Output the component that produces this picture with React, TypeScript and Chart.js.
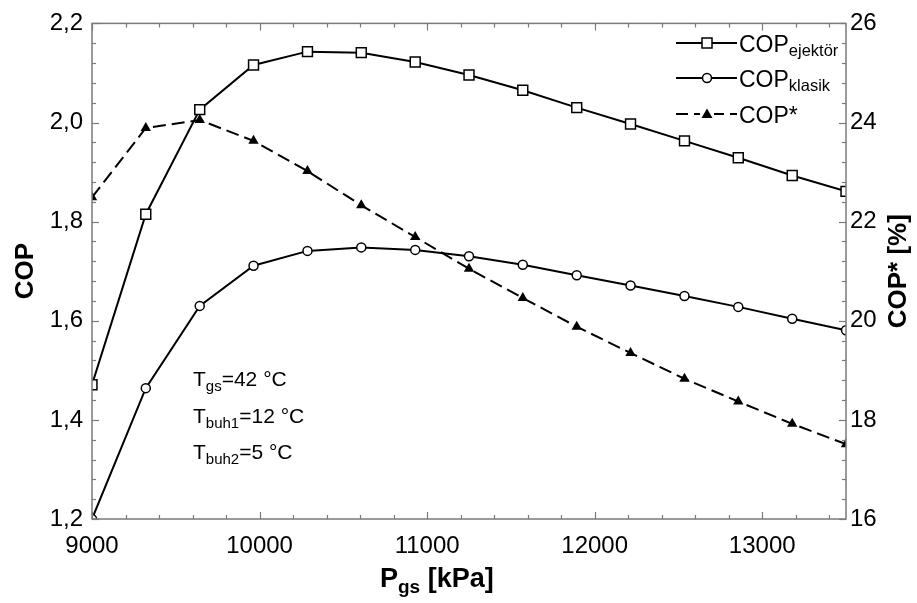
import React, { useEffect, useRef } from "react";
import { Chart, registerables } from "chart.js";

Chart.register(...registerables);

// ---- data ----
const pressures = [9000, 9321, 9643, 9964, 10286, 10607, 10929, 11250, 11571, 11893, 12214, 12536, 12857, 13179, 13500];
const copEjektor = [1.471, 1.815, 2.026, 2.116, 2.143, 2.141, 2.122, 2.096, 2.065, 2.03, 1.997, 1.963, 1.929, 1.893, 1.861];
const copKlasik = [1.2, 1.464, 1.63, 1.711, 1.741, 1.748, 1.743, 1.73, 1.713, 1.692, 1.671, 1.65, 1.628, 1.604, 1.581];
const copStar = [22.49, 23.89, 24.05, 23.63, 23.02, 22.33, 21.69, 21.05, 20.46, 19.88, 19.35, 18.83, 18.37, 17.92, 17.51];

const xTicks = [9000, 10000, 11000, 12000, 13000];
const yTicks = [1.2, 1.4, 1.6, 1.8, 2.0, 2.2];
const y1Ticks = [16, 18, 20, 22, 24, 26];

const legendLabels = [
  { main: "COP", sub: "ejektör" },
  { main: "COP", sub: "klasik" },
  { main: "COP*", sub: "" },
];
const notes = [
  { main: "T", sub: "gs", rest: "=42 °C" },
  { main: "T", sub: "buh1", rest: "=12 °C" },
  { main: "T", sub: "buh2", rest: "=5 °C" },
];

const FONT = '"Liberation Sans", Arial, sans-serif';
const AXIS_GRAY = "#7a7a7a";

const decorPlugin = {
  id: "decor",
  afterDraw(chart: any) {
    const ctx = chart.ctx as CanvasRenderingContext2D;
    const { left, right, top, bottom } = chart.chartArea;
    const xs = chart.scales.x;
    const ys = chart.scales.y;
    const y1s = chart.scales.y1;
    ctx.save();
    // frame
    ctx.strokeStyle = AXIS_GRAY;
    ctx.lineWidth = 1.5;
    ctx.strokeRect(left, top, right - left, bottom - top);
    ctx.lineWidth = 1.2;
    // x ticks (inward, bottom and top)
    for (let v = 9000; v <= 13500; v += 200) {
      const px = Math.round(xs.getPixelForValue(v)) + 0.5;
      const len = v % 1000 === 0 ? 7 : 4;
      ctx.beginPath();
      ctx.moveTo(px, bottom);
      ctx.lineTo(px, bottom - len);
      ctx.moveTo(px, top);
      ctx.lineTo(px, top + len);
      ctx.stroke();
    }
    // left ticks
    for (let i = 0; i <= 25; i++) {
      const v = 1.2 + i * 0.04;
      const py = Math.round(ys.getPixelForValue(v)) + 0.5;
      const len = i % 5 === 0 ? 7 : 4;
      ctx.beginPath();
      ctx.moveTo(left, py);
      ctx.lineTo(left + len, py);
      ctx.stroke();
    }
    // right ticks
    for (let i = 0; i <= 25; i++) {
      const v = 16 + i * 0.4;
      const py = Math.round(y1s.getPixelForValue(v)) + 0.5;
      const len = i % 5 === 0 ? 7 : 4;
      ctx.beginPath();
      ctx.moveTo(right, py);
      ctx.lineTo(right - len, py);
      ctx.stroke();
    }

    ctx.fillStyle = "#000";
    // axis titles
    ctx.font = `bold 26px ${FONT}`;
    ctx.textBaseline = "middle";
    ctx.textAlign = "center";
    ctx.save();
    ctx.translate(26, (top + bottom) / 2);
    ctx.rotate(-Math.PI / 2);
    ctx.fillText("COP", 0, 0);
    ctx.restore();
    ctx.save();
    ctx.translate(899, (top + bottom) / 2);
    ctx.rotate(-Math.PI / 2);
    ctx.fillText("COP* [%]", 0, 0);
    ctx.restore();

    // x title with subscript
    ctx.textAlign = "left";
    ctx.textBaseline = "alphabetic";
    let tx = 380;
    const tBase = 587;
    ctx.font = `bold 27px ${FONT}`;
    ctx.fillText("P", tx, tBase);
    tx += ctx.measureText("P").width;
    ctx.font = `bold 19px ${FONT}`;
    ctx.fillText("gs", tx, tBase + 6);
    tx += ctx.measureText("gs").width;
    ctx.font = `bold 27px ${FONT}`;
    ctx.fillText(" [kPa]", tx, tBase);

    // legend
    const legendY = [43, 78, 114];
    legendLabels.forEach((lab, i) => {
      const ly = legendY[i];
      ctx.strokeStyle = "#000";
      ctx.lineWidth = 2;
      ctx.setLineDash(i === 2 ? [12, 6] : []);
      ctx.beginPath();
      ctx.moveTo(676, ly);
      ctx.lineTo(737, ly);
      ctx.stroke();
      ctx.setLineDash([]);
      ctx.lineWidth = 1.5;
      const mx = 707;
      if (i === 0) {
        ctx.fillStyle = "#fff";
        ctx.fillRect(mx - 5, ly - 5, 10, 10);
        ctx.strokeRect(mx - 5, ly - 5, 10, 10);
      } else if (i === 1) {
        ctx.fillStyle = "#fff";
        ctx.beginPath();
        ctx.arc(mx, ly, 4.5, 0, Math.PI * 2);
        ctx.fill();
        ctx.stroke();
      } else {
        ctx.fillStyle = "#fff";
        ctx.fillRect(mx - 7, ly - 3, 14, 6);
        ctx.fillStyle = "#000";
        ctx.beginPath();
        ctx.moveTo(mx, ly - 5.5);
        ctx.lineTo(mx + 5.5, ly + 4);
        ctx.lineTo(mx - 5.5, ly + 4);
        ctx.closePath();
        ctx.fill();
      }
      ctx.fillStyle = "#000";
      let lx = 739;
      const base = ly + 8.5;
      ctx.font = `23px ${FONT}`;
      ctx.fillText(lab.main, lx, base);
      lx += ctx.measureText(lab.main).width;
      if (lab.sub) {
        ctx.font = `16.5px ${FONT}`;
        ctx.fillText(lab.sub, lx, base + 4);
      }
    });

    // annotations
    const noteBase = [386, 423, 459];
    notes.forEach((n, i) => {
      let nx = 193;
      const b = noteBase[i];
      ctx.font = `21px ${FONT}`;
      ctx.fillText(n.main, nx, b);
      nx += ctx.measureText(n.main).width;
      ctx.font = `15px ${FONT}`;
      ctx.fillText(n.sub, nx, b + 5);
      nx += ctx.measureText(n.sub).width;
      ctx.font = `21px ${FONT}`;
      ctx.fillText(n.rest, nx, b);
    });
    ctx.restore();
  },
};

export default function App() {
  const ref = useRef<HTMLCanvasElement>(null);
  useEffect(() => {
    if (!ref.current) return;
    const toPts = (ys: number[]) => pressures.map((x, i) => ({ x, y: ys[i] }));
    const chart = new Chart(ref.current, {
      type: "line",
      data: {
        datasets: [
          {
            label: "COP ejektör",
            data: toPts(copEjektor),
            yAxisID: "y",
            borderColor: "#000",
            borderWidth: 2,
            pointStyle: "rect",
            pointRadius: 7,
            pointBorderWidth: 1.5,
            pointBackgroundColor: "#fff",
            pointBorderColor: "#000",
            tension: 0,
            clip: 0,
          },
          {
            label: "COP klasik",
            data: toPts(copKlasik),
            yAxisID: "y",
            borderColor: "#000",
            borderWidth: 2,
            pointStyle: "circle",
            pointRadius: 4.5,
            pointBorderWidth: 1.5,
            pointBackgroundColor: "#fff",
            pointBorderColor: "#000",
            tension: 0,
            clip: 0,
          },
          {
            label: "COP*",
            data: toPts(copStar),
            yAxisID: "y1",
            borderColor: "#000",
            borderWidth: 2,
            borderDash: [13, 6],
            pointStyle: "triangle",
            pointRadius: 6,
            pointBorderWidth: 0,
            pointBackgroundColor: "#000",
            pointBorderColor: "#000",
            tension: 0,
            clip: 0,
          },
        ],
      } as any,
      options: {
        animation: false,
        responsive: false,
        layout: { padding: { top: 17, left: 0, right: 0, bottom: 0 } },
        plugins: { legend: { display: false }, tooltip: { enabled: false } },
        scales: {
          x: {
            type: "linear",
            min: 9000,
            max: 13500,
            grid: { display: false, drawTicks: false },
            border: { display: false },
            afterBuildTicks: (s: any) => {
              s.ticks = xTicks.map((v) => ({ value: v }));
            },
            afterFit: (s: any) => {
              s.height = 84;
            },
            ticks: {
              padding: 13,
              color: "#000",
              font: { family: FONT, size: 24 },
              callback: (v: any) => String(v),
              maxRotation: 0,
            },
          },
          y: {
            type: "linear",
            position: "left",
            min: 1.2,
            max: 2.2,
            grid: { display: false, drawTicks: false },
            border: { display: false },
            afterBuildTicks: (s: any) => {
              s.ticks = yTicks.map((v) => ({ value: v }));
            },
            afterFit: (s: any) => {
              s.width = 92;
            },
            ticks: {
              padding: 9,
              color: "#000",
              font: { family: FONT, size: 24 },
              callback: (v: any) => Number(v).toFixed(1).replace(".", ","),
            },
          },
          y1: {
            type: "linear",
            position: "right",
            min: 16,
            max: 26,
            grid: { display: false, drawTicks: false },
            border: { display: false },
            afterBuildTicks: (s: any) => {
              s.ticks = y1Ticks.map((v) => ({ value: v }));
            },
            afterFit: (s: any) => {
              s.width = 71;
            },
            ticks: {
              padding: 4,
              color: "#000",
              font: { family: FONT, size: 24 },
              callback: (v: any) => String(v),
            },
          },
        },
      } as any,
      plugins: [decorPlugin],
    });
    return () => chart.destroy();
  }, []);
  return (
    <div style={{ position: "fixed", left: 0, top: 0, width: 917, height: 603, background: "#fff" }}>
      <canvas ref={ref} width={917} height={603} style={{ display: "block" }} />
    </div>
  );
}
